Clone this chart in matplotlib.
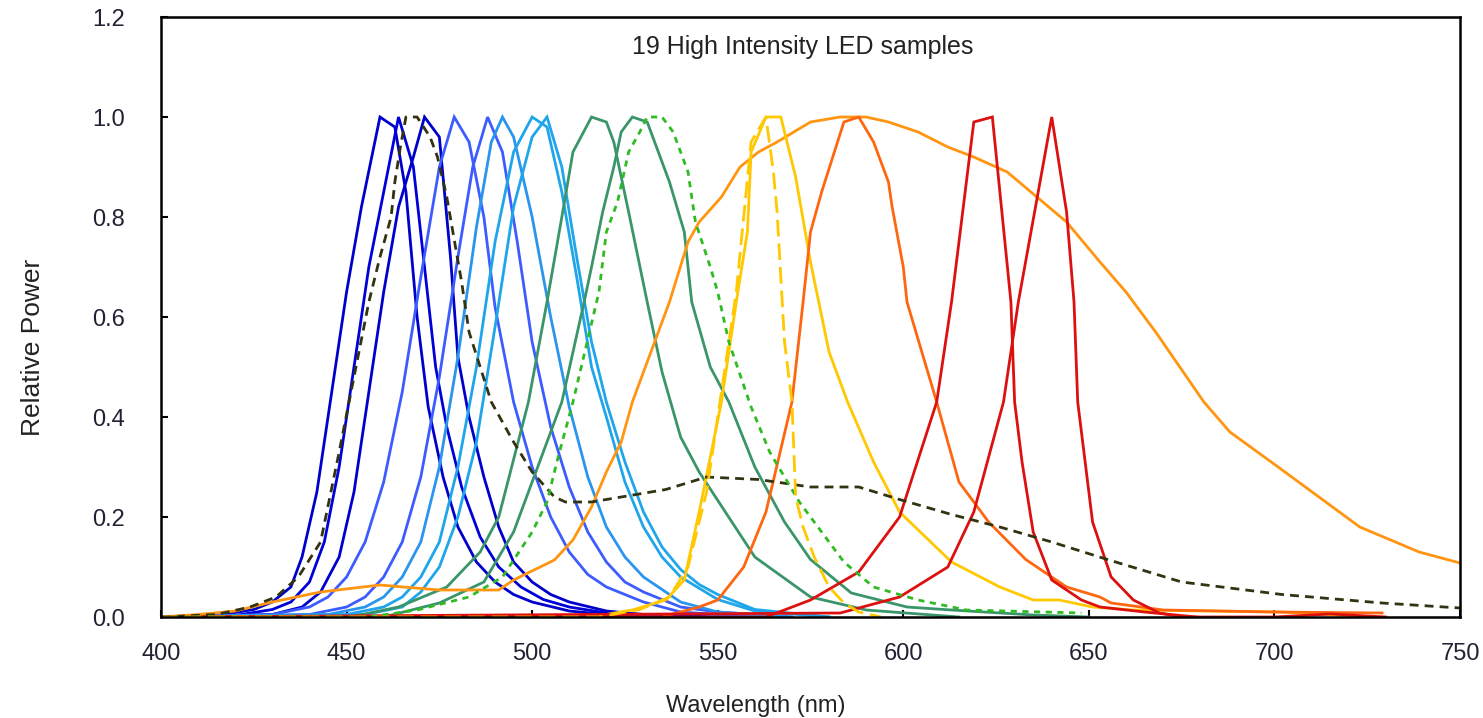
import matplotlib
matplotlib.use("Agg")
import matplotlib.pyplot as plt

plt.rcParams['font.family'] = ['Liberation Sans', 'DejaVu Sans']

# ---------------- data ----------------
x_ticks = [400, 450, 500, 550, 600, 650, 700, 750]
y_ticks = [0.0, 0.2, 0.4, 0.6, 0.8, 1.0, 1.2]

blue1_wl = [400, 415, 425, 430, 435, 438, 442, 446, 450, 454, 459, 463, 466, 469, 472, 476, 480, 485, 490, 495, 500, 510, 520, 540]
blue1_v = [0, 0.003, 0.015, 0.03, 0.06, 0.12, 0.25, 0.45, 0.65, 0.82, 1.0, 0.98, 0.85, 0.6, 0.42, 0.28, 0.18, 0.11, 0.07, 0.045, 0.03, 0.012, 0.005, 0]

blue2_wl = [400, 420, 430, 435, 440, 444, 448, 452, 456, 460, 464, 466, 468, 471, 474, 477, 481, 486, 491, 497, 503, 510, 520, 540]
blue2_v = [0, 0.003, 0.015, 0.03, 0.07, 0.15, 0.3, 0.5, 0.7, 0.85, 1.0, 0.95, 0.9, 0.7, 0.5, 0.38, 0.26, 0.16, 0.1, 0.06, 0.035, 0.02, 0.008, 0]

blue3_wl = [400, 430, 438, 443, 448, 452, 456, 460, 464, 468, 471, 475, 478, 480, 483, 487, 491, 495, 500, 505, 510, 520, 530, 550]
blue3_v = [0, 0.005, 0.02, 0.05, 0.12, 0.25, 0.45, 0.65, 0.82, 0.92, 1.0, 0.96, 0.72, 0.52, 0.4, 0.28, 0.18, 0.11, 0.07, 0.045, 0.03, 0.012, 0.005, 0]

olive_wl = [400, 415, 424, 431, 437, 443, 448, 452, 456, 459, 462, 463, 464.5, 466, 469, 472.5, 474.5, 477, 481, 483, 486, 489, 495, 500, 506, 509, 516, 524, 536, 547, 561, 575, 588, 599, 613, 626, 640, 655, 675, 702, 729, 750]
olive_v = [0, 0.005, 0.02, 0.04, 0.08, 0.15, 0.33, 0.48, 0.63, 0.72, 0.8, 0.87, 0.94, 1.0, 1.0, 0.96, 0.92, 0.84, 0.67, 0.57, 0.5, 0.43, 0.35, 0.29, 0.24, 0.23, 0.23, 0.24, 0.255, 0.28, 0.275, 0.26, 0.26, 0.235, 0.205, 0.18, 0.15, 0.115, 0.07, 0.045, 0.028, 0.018]

mblue1_wl = [400, 430, 440, 445, 450, 455, 460, 465, 470, 475, 479, 483, 487, 490, 495, 500, 505, 510, 515, 520, 530, 540, 560]
mblue1_v = [0, 0.005, 0.02, 0.04, 0.08, 0.15, 0.27, 0.45, 0.68, 0.9, 1.0, 0.95, 0.8, 0.62, 0.43, 0.3, 0.2, 0.13, 0.085, 0.06, 0.03, 0.01, 0]

mblue2_wl = [400, 440, 450, 455, 460, 465, 470, 475, 480, 484, 488, 492, 496, 500, 505, 510, 515, 520, 525, 530, 540, 550, 570]
mblue2_v = [0, 0.005, 0.02, 0.04, 0.08, 0.15, 0.28, 0.48, 0.72, 0.9, 1.0, 0.93, 0.75, 0.55, 0.38, 0.26, 0.17, 0.11, 0.07, 0.05, 0.02, 0.01, 0]

sky1_wl = [400, 445, 455, 460, 465, 470, 475, 480, 485, 489, 492, 495, 500, 505, 510, 515, 520, 525, 530, 540, 550, 570]
sky1_v = [0, 0.005, 0.02, 0.04, 0.08, 0.15, 0.3, 0.52, 0.78, 0.95, 1.0, 0.96, 0.8, 0.6, 0.42, 0.28, 0.18, 0.12, 0.08, 0.03, 0.01, 0]

sky2_wl = [400, 450, 460, 465, 470, 475, 480, 485, 490, 495, 500, 504, 508, 512, 516, 520, 525, 530, 535, 540, 550, 560, 580]
sky2_v = [0, 0.005, 0.02, 0.04, 0.08, 0.15, 0.3, 0.5, 0.75, 0.93, 1.0, 0.98, 0.85, 0.68, 0.5, 0.4, 0.27, 0.18, 0.12, 0.08, 0.035, 0.012, 0]

sky3_wl = [400, 455, 465, 470, 475, 480, 485, 490, 495, 500, 504, 508, 512, 516, 520, 525, 530, 535, 540, 545, 550, 560, 580]
sky3_v = [0, 0.005, 0.02, 0.05, 0.1, 0.2, 0.35, 0.58, 0.82, 0.96, 1.0, 0.9, 0.72, 0.55, 0.43, 0.31, 0.21, 0.14, 0.095, 0.065, 0.045, 0.015, 0]

sgreen1_wl = [400, 451, 464, 477, 486, 491, 499, 504, 508, 511, 516, 520, 522, 526, 531, 535, 540, 545, 560, 575, 590, 615]
sgreen1_v = [0, 0.0, 0.02, 0.06, 0.13, 0.2, 0.43, 0.63, 0.8, 0.93, 1.0, 0.99, 0.95, 0.81, 0.63, 0.49, 0.36, 0.29, 0.12, 0.04, 0.014, 0]

sgreen2_wl = [400, 460, 475, 487, 495, 500, 508, 514, 516, 519, 522, 524, 527, 531, 534, 537, 541, 543, 548, 553, 560, 568, 575, 586, 601, 613, 635, 650]
sgreen2_v = [0, 0.0, 0.028, 0.07, 0.17, 0.27, 0.43, 0.63, 0.7, 0.81, 0.9, 0.97, 1.0, 0.99, 0.93, 0.87, 0.77, 0.63, 0.5, 0.43, 0.3, 0.19, 0.115, 0.048, 0.02, 0.014, 0.004, 0]

dgreen_wl = [400, 456, 469, 483, 492, 500, 504, 507, 511, 518, 520, 523, 526, 529, 531, 535, 538, 542, 544, 548, 550, 553, 559, 564, 572, 584, 592, 604, 617, 648]
dgreen_v = [0, 0.0, 0.014, 0.04, 0.08, 0.17, 0.23, 0.32, 0.43, 0.65, 0.77, 0.83, 0.93, 0.97, 1.0, 1.0, 0.97, 0.89, 0.79, 0.7, 0.65, 0.55, 0.42, 0.33, 0.23, 0.11, 0.06, 0.034, 0.014, 0.008]

orange_wl = [400, 410, 420, 430, 443, 459, 475, 491, 495, 506, 511, 516, 520, 524, 527, 532, 537, 542, 545, 551, 556, 561, 566, 575, 583, 590, 596, 604, 612, 619, 628, 636, 644, 653, 660, 668, 681, 688, 701, 712, 723, 739, 750]
orange_v = [0, 0.005, 0.012, 0.03, 0.05, 0.064, 0.054, 0.054, 0.074, 0.114, 0.154, 0.22, 0.29, 0.35, 0.43, 0.53, 0.63, 0.75, 0.79, 0.84, 0.9, 0.93, 0.95, 0.99, 1.0, 1.0, 0.99, 0.97, 0.94, 0.92, 0.89, 0.84, 0.79, 0.71, 0.65, 0.57, 0.43, 0.37, 0.30, 0.24, 0.18, 0.13, 0.108]

yellow_wl = [400, 516, 527, 536, 541, 545, 551, 555, 558, 559, 563, 567, 571, 575, 580, 585, 592, 599, 613, 626, 635, 642, 651, 662, 702, 726]
yellow_v = [0, 0.0, 0.014, 0.034, 0.074, 0.21, 0.43, 0.63, 0.77, 0.93, 1.0, 1.0, 0.88, 0.71, 0.53, 0.43, 0.31, 0.21, 0.11, 0.06, 0.034, 0.034, 0.02, 0.014, 0.01, 0]

dyellow_wl = [400, 518, 529, 537, 542, 547, 551, 555, 557, 559, 563, 565, 566, 567, 568, 570, 571, 573, 576, 580, 584, 588, 594]
dyellow_v = [0, 0.0, 0.015, 0.04, 0.1, 0.25, 0.45, 0.65, 0.8, 0.95, 1.0, 0.89, 0.81, 0.68, 0.55, 0.43, 0.24, 0.18, 0.12, 0.06, 0.028, 0.01, 0]

ored_wl = [400, 535, 545, 550, 557, 563, 570, 573, 575, 578, 584, 588, 592, 596, 597, 600, 601, 609, 615, 623, 633, 644, 653, 656, 670, 700, 729]
ored_v = [0, 0.0, 0.02, 0.034, 0.1, 0.21, 0.43, 0.63, 0.77, 0.85, 0.99, 1.0, 0.95, 0.87, 0.82, 0.7, 0.63, 0.43, 0.27, 0.19, 0.115, 0.06, 0.04, 0.028, 0.014, 0.01, 0.008]

red1_wl = [400, 563, 575, 588, 599, 609, 613, 619, 624, 629, 630, 632, 635, 640, 648, 653, 665, 679]
red1_v = [0, 0.0, 0.034, 0.09, 0.2, 0.43, 0.63, 0.99, 1.0, 0.63, 0.43, 0.31, 0.17, 0.074, 0.034, 0.02, 0.01, 0]

red2_wl = [400, 583, 599, 612, 619, 627, 631, 640, 644, 646, 647, 651, 656, 662, 669, 675, 700, 715, 730]
red2_v = [0, 0.008, 0.04, 0.1, 0.21, 0.43, 0.63, 1.0, 0.81, 0.63, 0.43, 0.19, 0.08, 0.034, 0.008, 0.0, 0.0, 0.006, 0]

# ---------------- figure ----------------
fig = plt.figure(figsize=(14.83, 7.18), dpi=100)
ax = fig.add_axes([161/1483, 101/718, 1299/1483, 600/718])

LW = 2.0
series = [
    (blue1_wl, blue1_v, '#0000cc'),
    (blue2_wl, blue2_v, '#0000d8'),
    (blue3_wl, blue3_v, '#0000cc'),
    (mblue1_wl, mblue1_v, '#3d5cff'),
    (mblue2_wl, mblue2_v, '#3d5cff'),
    (sky1_wl, sky1_v, '#2a95ee'),
    (sky2_wl, sky2_v, '#1fa5ea'),
    (sky3_wl, sky3_v, '#1fa5ea'),
    (sgreen1_wl, sgreen1_v, '#3a956a'),
    (sgreen2_wl, sgreen2_v, '#3a956a'),
    (orange_wl, orange_v, '#ff9510'),
    (yellow_wl, yellow_v, '#ffc800'),
    (ored_wl, ored_v, '#ff6610'),
    (red1_wl, red1_v, '#dd1010'),
    (red2_wl, red2_v, '#dd1010'),
]
for wl, v, c in series:
    ax.plot(wl, v, color=c, lw=LW, ls='-', solid_joinstyle='miter')

ax.plot(olive_wl, olive_v, color='#333311', lw=LW, dashes=(3.2, 2.2))
ax.plot(dgreen_wl, dgreen_v, color='#2fbb22', lw=LW, dashes=(2.2, 2.0))
ax.plot(dyellow_wl, dyellow_v, color='#ffc800', lw=LW, dashes=(6, 2.5))

ax.set_xlim(400, 750)
ax.set_ylim(0, 1.2)
ax.set_xticks(x_ticks)
ax.set_yticks(y_ticks)
ax.set_xticklabels([str(t) for t in x_ticks])
ax.set_yticklabels(['%.1f' % t for t in y_ticks])
ax.tick_params(axis='both', direction='in', length=5, width=1.5, labelsize=17,
               colors='black', labelcolor='#222233')
ax.tick_params(axis='y', pad=26)
ax.tick_params(axis='x', pad=19)
for s in ax.spines.values():
    s.set_color('black')
    s.set_linewidth(1.8)

ax.text(0.494, 0.95, '19 High Intensity LED samples', transform=ax.transAxes,
        ha='center', va='center', fontsize=18, color='#222222')

fig.text(756/1483, 1 - 706/718, 'Wavelength (nm)', ha='center', va='center',
         fontsize=17, color='#222222')
fig.text(33/1483, 1 - 347/718, 'Relative Power', rotation=90, ha='center', va='center',
         fontsize=19, color='#222222',
         family=['Liberation Sans Narrow', 'Liberation Sans', 'DejaVu Sans'])

fig.savefig('out.png', dpi=100)
